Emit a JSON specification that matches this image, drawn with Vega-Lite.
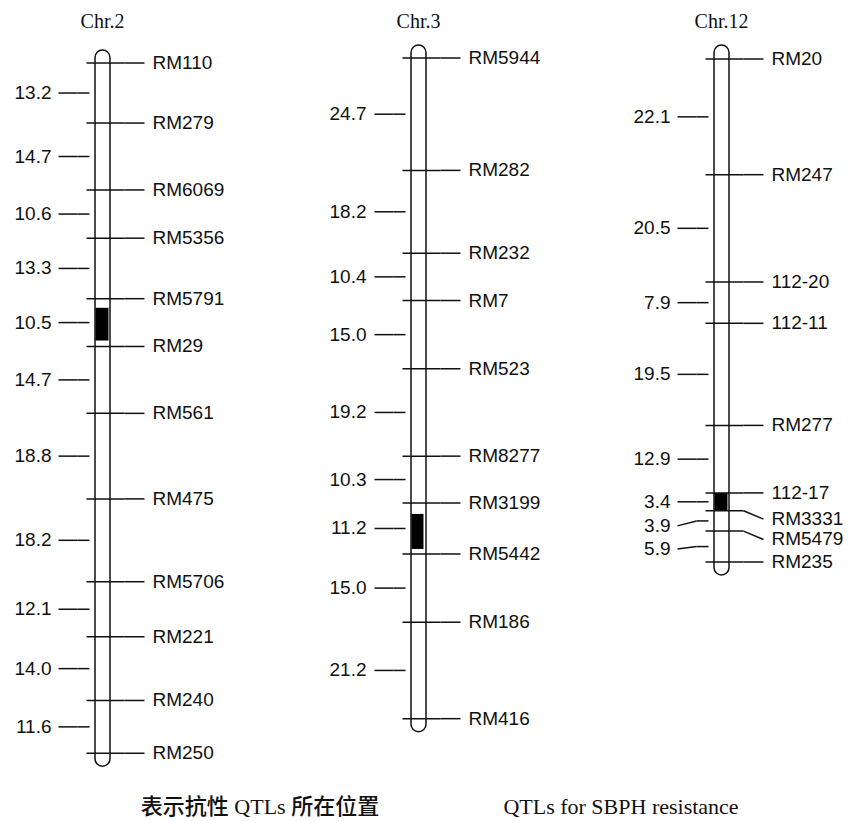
{
  "$schema": "https://vega.github.io/schema/vega-lite/v6.json",
  "background": "white",
  "padding": {"left": 0, "top": 12, "right": 0, "bottom": 0},
  "autosize": {"type": "pad"},
  "config": {
    "view": {"stroke": null},
    "title": {"font": "Liberation Serif", "fontSize": 20, "fontWeight": "normal", "color": "#111", "anchor": "middle", "offset": 10},
    "text": {"font": "Liberation Sans", "fontSize": 19, "color": "#111", "baseline": "middle"},
    "rule": {"stroke": "#111", "strokeWidth": 1.5}
  },
  "data": {
    "values": [
      {"chr": "Chr.2", "kind": "chrom", "top": 0, "bottom": 151.7},
      {"chr": "Chr.2", "kind": "qtl", "from": 53.8, "to": 61.0},
      {"chr": "Chr.2", "kind": "marker", "name": "RM110", "cM": 0, "lab": 0},
      {"chr": "Chr.2", "kind": "marker", "name": "RM279", "cM": 13.2, "lab": 13.2},
      {"chr": "Chr.2", "kind": "marker", "name": "RM6069", "cM": 27.9, "lab": 27.9},
      {"chr": "Chr.2", "kind": "marker", "name": "RM5356", "cM": 38.5, "lab": 38.5},
      {"chr": "Chr.2", "kind": "marker", "name": "RM5791", "cM": 51.8, "lab": 51.8},
      {"chr": "Chr.2", "kind": "marker", "name": "RM29", "cM": 62.3, "lab": 62.3},
      {"chr": "Chr.2", "kind": "marker", "name": "RM561", "cM": 77.0, "lab": 77.0},
      {"chr": "Chr.2", "kind": "marker", "name": "RM475", "cM": 95.8, "lab": 95.8},
      {"chr": "Chr.2", "kind": "marker", "name": "RM5706", "cM": 114.0, "lab": 114.0},
      {"chr": "Chr.2", "kind": "marker", "name": "RM221", "cM": 126.1, "lab": 126.1},
      {"chr": "Chr.2", "kind": "marker", "name": "RM240", "cM": 140.1, "lab": 140.1},
      {"chr": "Chr.2", "kind": "marker", "name": "RM250", "cM": 151.7, "lab": 151.7},
      {"chr": "Chr.2", "kind": "interval", "dist": 13.2, "mid": 6.6, "lab": 6.6},
      {"chr": "Chr.2", "kind": "interval", "dist": 14.7, "mid": 20.55, "lab": 20.55},
      {"chr": "Chr.2", "kind": "interval", "dist": 10.6, "mid": 33.2, "lab": 33.2},
      {"chr": "Chr.2", "kind": "interval", "dist": 13.3, "mid": 45.15, "lab": 45.15},
      {"chr": "Chr.2", "kind": "interval", "dist": 10.5, "mid": 57.05, "lab": 57.05},
      {"chr": "Chr.2", "kind": "interval", "dist": 14.7, "mid": 69.65, "lab": 69.65},
      {"chr": "Chr.2", "kind": "interval", "dist": 18.8, "mid": 86.4, "lab": 86.4},
      {"chr": "Chr.2", "kind": "interval", "dist": 18.2, "mid": 104.9, "lab": 104.9},
      {"chr": "Chr.2", "kind": "interval", "dist": 12.1, "mid": 120.05, "lab": 120.05},
      {"chr": "Chr.2", "kind": "interval", "dist": 14.0, "mid": 133.1, "lab": 133.1},
      {"chr": "Chr.2", "kind": "interval", "dist": 11.6, "mid": 145.9, "lab": 145.9},

      {"chr": "Chr.3", "kind": "chrom", "top": 0, "bottom": 145.2},
      {"chr": "Chr.3", "kind": "qtl", "from": 100.2, "to": 107.9},
      {"chr": "Chr.3", "kind": "marker", "name": "RM5944", "cM": 0, "lab": 0},
      {"chr": "Chr.3", "kind": "marker", "name": "RM282", "cM": 24.7, "lab": 24.7},
      {"chr": "Chr.3", "kind": "marker", "name": "RM232", "cM": 42.9, "lab": 42.9},
      {"chr": "Chr.3", "kind": "marker", "name": "RM7", "cM": 53.3, "lab": 53.3},
      {"chr": "Chr.3", "kind": "marker", "name": "RM523", "cM": 68.3, "lab": 68.3},
      {"chr": "Chr.3", "kind": "marker", "name": "RM8277", "cM": 87.5, "lab": 87.5},
      {"chr": "Chr.3", "kind": "marker", "name": "RM3199", "cM": 97.8, "lab": 97.8},
      {"chr": "Chr.3", "kind": "marker", "name": "RM5442", "cM": 109.0, "lab": 109.0},
      {"chr": "Chr.3", "kind": "marker", "name": "RM186", "cM": 124.0, "lab": 124.0},
      {"chr": "Chr.3", "kind": "marker", "name": "RM416", "cM": 145.2, "lab": 145.2},
      {"chr": "Chr.3", "kind": "interval", "dist": 24.7, "mid": 12.35, "lab": 12.35},
      {"chr": "Chr.3", "kind": "interval", "dist": 18.2, "mid": 33.8, "lab": 33.8},
      {"chr": "Chr.3", "kind": "interval", "dist": 10.4, "mid": 48.1, "lab": 48.1},
      {"chr": "Chr.3", "kind": "interval", "dist": 15.0, "mid": 60.8, "lab": 60.8},
      {"chr": "Chr.3", "kind": "interval", "dist": 19.2, "mid": 77.9, "lab": 77.9},
      {"chr": "Chr.3", "kind": "interval", "dist": 10.3, "mid": 92.65, "lab": 92.65},
      {"chr": "Chr.3", "kind": "interval", "dist": 11.2, "mid": 103.4, "lab": 103.4},
      {"chr": "Chr.3", "kind": "interval", "dist": 15.0, "mid": 116.5, "lab": 116.5},
      {"chr": "Chr.3", "kind": "interval", "dist": 21.2, "mid": 134.6, "lab": 134.6},

      {"chr": "Chr.12", "kind": "chrom", "top": 0, "bottom": 96.1},
      {"chr": "Chr.12", "kind": "qtl", "from": 82.9, "to": 86.3},
      {"chr": "Chr.12", "kind": "marker", "name": "RM20", "cM": 0, "lab": 0},
      {"chr": "Chr.12", "kind": "marker", "name": "RM247", "cM": 22.1, "lab": 22.1},
      {"chr": "Chr.12", "kind": "marker", "name": "112-20", "cM": 42.6, "lab": 42.6},
      {"chr": "Chr.12", "kind": "marker", "name": "112-11", "cM": 50.5, "lab": 50.5},
      {"chr": "Chr.12", "kind": "marker", "name": "RM277", "cM": 70.0, "lab": 70.0},
      {"chr": "Chr.12", "kind": "marker", "name": "112-17", "cM": 82.9, "lab": 82.9},
      {"chr": "Chr.12", "kind": "marker", "name": "RM3331", "cM": 86.3, "lab": 87.9},
      {"chr": "Chr.12", "kind": "marker", "name": "RM5479", "cM": 90.2, "lab": 91.8},
      {"chr": "Chr.12", "kind": "marker", "name": "RM235", "cM": 96.1, "lab": 96.1},
      {"chr": "Chr.12", "kind": "interval", "dist": 22.1, "mid": 11.05, "lab": 11.05},
      {"chr": "Chr.12", "kind": "interval", "dist": 20.5, "mid": 32.35, "lab": 32.35},
      {"chr": "Chr.12", "kind": "interval", "dist": 7.9, "mid": 46.55, "lab": 46.55},
      {"chr": "Chr.12", "kind": "interval", "dist": 19.5, "mid": 60.25, "lab": 60.25},
      {"chr": "Chr.12", "kind": "interval", "dist": 12.9, "mid": 76.45, "lab": 76.45},
      {"chr": "Chr.12", "kind": "interval", "dist": 3.4, "mid": 84.6, "lab": 84.6},
      {"chr": "Chr.12", "kind": "interval", "dist": 3.9, "mid": 88.25, "lab": 89.2},
      {"chr": "Chr.12", "kind": "interval", "dist": 5.9, "mid": 93.15, "lab": 93.6}
    ]
  },
  "bounds": "flush",
  "align": "each",
  "columns": 3,
  "spacing": {"row": 20, "column": 100},
  "concat": [
    {
      "title": "Chr.2",
      "width": 205,
      "height": 730,
      "transform": [{"filter": "datum.chr === 'Chr.2'"}],
      "encoding": {"x": {"datum": 0, "type": "quantitative", "scale": {"domain": [-1, 1]}, "axis": null}},
      "layer": [
        {"transform": [{"filter": "datum.kind === 'chrom'"}],
         "mark": {"type": "rect", "fill": "white", "stroke": "#111", "strokeWidth": 1.5, "cornerRadius": 7.5, "xOffset": -7.5, "x2Offset": 7.5, "yOffset": -13, "y2Offset": 13},
         "encoding": {"x2": {"datum": 0}, "y": {"field": "top", "type": "quantitative", "scale": {"domain": [-4.615, 155.82], "reverse": true, "nice": false, "zero": false}, "axis": null}, "y2": {"field": "bottom"}}},
        {"transform": [{"filter": "datum.kind === 'qtl'"}],
         "mark": {"type": "rect", "fill": "#000", "xOffset": -7, "x2Offset": 6},
         "encoding": {"x2": {"datum": 0}, "y": {"field": "from", "type": "quantitative"}, "y2": {"field": "to"}}},
        {"transform": [{"filter": "datum.kind === 'marker'"}],
         "mark": {"type": "rule", "xOffset": -16, "x2Offset": 22},
         "encoding": {"x2": {"datum": 0}, "y": {"field": "cM", "type": "quantitative"}}},
        {"transform": [{"filter": "datum.kind === 'marker'"}],
         "mark": {"type": "rule", "xOffset": 22, "x2Offset": 42},
         "encoding": {"x2": {"datum": 0}, "y": {"field": "cM", "type": "quantitative"}, "y2": {"field": "lab"}}},
        {"transform": [{"filter": "datum.kind === 'marker'"}],
         "mark": {"type": "text", "align": "left", "xOffset": 50},
         "encoding": {"y": {"field": "lab", "type": "quantitative"}, "text": {"field": "name"}}},
        {"transform": [{"filter": "datum.kind === 'interval'"}],
         "mark": {"type": "rule", "xOffset": -25, "x2Offset": -13},
         "encoding": {"x2": {"datum": 0}, "y": {"field": "mid", "type": "quantitative"}}},
        {"transform": [{"filter": "datum.kind === 'interval'"}],
         "mark": {"type": "rule", "xOffset": -44, "x2Offset": -25},
         "encoding": {"x2": {"datum": 0}, "y": {"field": "lab", "type": "quantitative"}, "y2": {"field": "mid"}}},
        {"transform": [{"filter": "datum.kind === 'interval'"}],
         "mark": {"type": "text", "align": "right", "xOffset": -51},
         "encoding": {"y": {"field": "lab", "type": "quantitative"}, "text": {"field": "dist", "type": "quantitative", "format": ".1f"}}}
      ]
    },
    {
      "title": "Chr.3",
      "width": 227,
      "height": 730,
      "transform": [{"filter": "datum.chr === 'Chr.3'"}],
      "encoding": {"x": {"datum": 0, "type": "quantitative", "scale": {"domain": [-1, 1]}, "axis": null}},
      "layer": [
        {"transform": [{"filter": "datum.kind === 'chrom'"}],
         "mark": {"type": "rect", "fill": "white", "stroke": "#111", "strokeWidth": 1.5, "cornerRadius": 7.5, "xOffset": -7.5, "x2Offset": 7.5, "yOffset": -13, "y2Offset": 13},
         "encoding": {"x2": {"datum": 0}, "y": {"field": "top", "type": "quantitative", "scale": {"domain": [-3.516, 156.92], "reverse": true, "nice": false, "zero": false}, "axis": null}, "y2": {"field": "bottom"}}},
        {"transform": [{"filter": "datum.kind === 'qtl'"}],
         "mark": {"type": "rect", "fill": "#000", "xOffset": -7, "x2Offset": 5},
         "encoding": {"x2": {"datum": 0}, "y": {"field": "from", "type": "quantitative"}, "y2": {"field": "to"}}},
        {"transform": [{"filter": "datum.kind === 'marker'"}],
         "mark": {"type": "rule", "xOffset": -16, "x2Offset": 22},
         "encoding": {"x2": {"datum": 0}, "y": {"field": "cM", "type": "quantitative"}}},
        {"transform": [{"filter": "datum.kind === 'marker'"}],
         "mark": {"type": "rule", "xOffset": 22, "x2Offset": 42},
         "encoding": {"x2": {"datum": 0}, "y": {"field": "cM", "type": "quantitative"}, "y2": {"field": "lab"}}},
        {"transform": [{"filter": "datum.kind === 'marker'"}],
         "mark": {"type": "text", "align": "left", "xOffset": 50},
         "encoding": {"y": {"field": "lab", "type": "quantitative"}, "text": {"field": "name"}}},
        {"transform": [{"filter": "datum.kind === 'interval'"}],
         "mark": {"type": "rule", "xOffset": -25, "x2Offset": -13},
         "encoding": {"x2": {"datum": 0}, "y": {"field": "mid", "type": "quantitative"}}},
        {"transform": [{"filter": "datum.kind === 'interval'"}],
         "mark": {"type": "rule", "xOffset": -44, "x2Offset": -25},
         "encoding": {"x2": {"datum": 0}, "y": {"field": "lab", "type": "quantitative"}, "y2": {"field": "mid"}}},
        {"transform": [{"filter": "datum.kind === 'interval'"}],
         "mark": {"type": "text", "align": "right", "xOffset": -52},
         "encoding": {"y": {"field": "lab", "type": "quantitative"}, "text": {"field": "dist", "type": "quantitative", "format": ".1f"}}}
      ]
    },
    {
      "title": "Chr.12",
      "width": 179,
      "height": 540,
      "transform": [{"filter": "datum.chr === 'Chr.12'"}],
      "encoding": {"x": {"datum": 0, "type": "quantitative", "scale": {"domain": [-1, 1]}, "axis": null}},
      "layer": [
        {"transform": [{"filter": "datum.kind === 'chrom'"}],
         "mark": {"type": "rect", "fill": "white", "stroke": "#111", "strokeWidth": 1.5, "cornerRadius": 7.5, "xOffset": -7.5, "x2Offset": 7.5, "yOffset": -14, "y2Offset": 13},
         "encoding": {"x2": {"datum": 0}, "y": {"field": "top", "type": "quantitative", "scale": {"domain": [-3.248, 99.92], "reverse": true, "nice": false, "zero": false}, "axis": null}, "y2": {"field": "bottom"}}},
        {"transform": [{"filter": "datum.kind === 'qtl'"}],
         "mark": {"type": "rect", "fill": "#000", "xOffset": -7, "x2Offset": 6},
         "encoding": {"x2": {"datum": 0}, "y": {"field": "from", "type": "quantitative"}, "y2": {"field": "to"}}},
        {"transform": [{"filter": "datum.kind === 'marker'"}],
         "mark": {"type": "rule", "xOffset": -16, "x2Offset": 22},
         "encoding": {"x2": {"datum": 0}, "y": {"field": "cM", "type": "quantitative"}}},
        {"transform": [{"filter": "datum.kind === 'marker'"}],
         "mark": {"type": "rule", "xOffset": 22, "x2Offset": 42},
         "encoding": {"x2": {"datum": 0}, "y": {"field": "cM", "type": "quantitative"}, "y2": {"field": "lab"}}},
        {"transform": [{"filter": "datum.kind === 'marker'"}],
         "mark": {"type": "text", "align": "left", "xOffset": 50},
         "encoding": {"y": {"field": "lab", "type": "quantitative"}, "text": {"field": "name"}}},
        {"transform": [{"filter": "datum.kind === 'interval'"}],
         "mark": {"type": "rule", "xOffset": -25, "x2Offset": -13},
         "encoding": {"x2": {"datum": 0}, "y": {"field": "mid", "type": "quantitative"}}},
        {"transform": [{"filter": "datum.kind === 'interval'"}],
         "mark": {"type": "rule", "xOffset": -44, "x2Offset": -25},
         "encoding": {"x2": {"datum": 0}, "y": {"field": "lab", "type": "quantitative"}, "y2": {"field": "mid"}}},
        {"transform": [{"filter": "datum.kind === 'interval'"}],
         "mark": {"type": "text", "align": "right", "xOffset": -51},
         "encoding": {"y": {"field": "lab", "type": "quantitative"}, "text": {"field": "dist", "type": "quantitative", "format": ".1f"}}}
      ]
    },
    {
      "width": 205,
      "height": 30,
      "data": {"values": [
        {"item": "zh", "label": "表示抗性 QTLs 所在位置"},
        {"item": "en", "label": "QTLs for SBPH resistance"}
      ]},
      "mark": {"type": "text", "font": "Liberation Serif, Noto Sans CJK SC", "fontSize": 22, "fontWeight": 500, "color": "#111", "align": "center", "baseline": "middle"},
      "encoding": {
        "x": {"field": "item", "type": "nominal", "scale": {"domain": ["zh", "en"], "range": [260, 621], "padding": 0}, "axis": null},
        "text": {"field": "label"}
      }
    }
  ]
}
